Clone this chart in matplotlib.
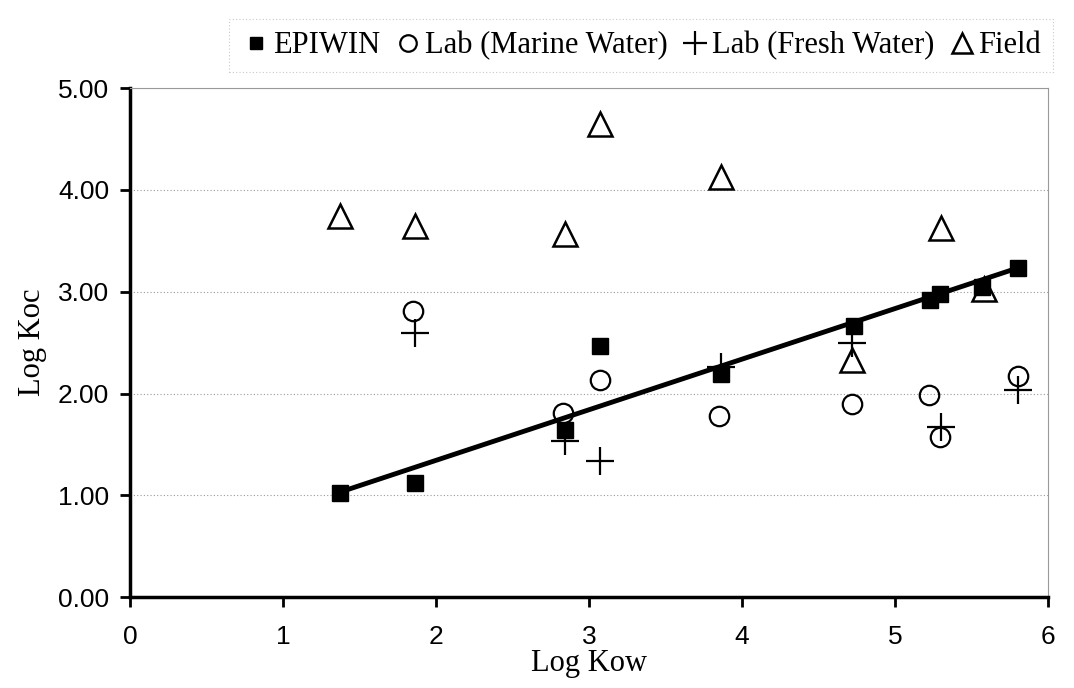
import matplotlib.pyplot as plt
import numpy as np

# values
epiwin_x = [1.37, 1.86, 2.84, 3.07, 3.86, 4.73, 5.23, 5.29, 5.57, 5.80]
epiwin_y = [1.02, 1.12, 1.64, 2.47, 2.19, 2.66, 2.92, 2.98, 3.05, 3.23]

marine_x = [1.85, 2.83, 3.07, 3.85, 4.72, 5.22, 5.29, 5.80]
marine_y = [2.81, 1.81, 2.13, 1.78, 1.90, 1.99, 1.57, 2.17]

fresh_x = [1.86, 2.84, 3.07, 3.86, 4.72, 5.30, 5.80]
fresh_y = [2.59, 1.53, 1.34, 2.26, 2.50, 1.67, 2.03]

field_x = [1.37, 1.86, 2.84, 3.07, 3.86, 4.72, 5.30, 5.58]
field_y = [3.74, 3.65, 3.57, 4.65, 4.13, 2.33, 3.63, 3.03]

# trend line of the EPIWIN estimates
trend_slope = 0.497
trend_icpt = 0.35

serif = 'Liberation Serif'
sans = 'Liberation Sans'

fig = plt.figure(figsize=(10.74, 6.88), dpi=100)
ax = fig.add_axes([0.121, 0.132, 0.855, 0.740])

tx = np.array([min(epiwin_x), max(epiwin_x)])
ax.plot(tx, trend_slope * tx + trend_icpt, color='black', lw=3.5, zorder=2)

ax.plot(epiwin_x, epiwin_y, 's', color='black', ms=11, label='EPIWIN', zorder=3)
ax.plot(marine_x, marine_y, 'o', mfc='none', mec='black', mew=1.6, ms=14,
        label='Lab (Marine Water)', zorder=3)
ax.plot(fresh_x, fresh_y, '+', color='black', mew=1.6, ms=20,
        label='Lab (Fresh Water)', zorder=3)
ax.plot(field_x, field_y, '^', mfc='none', mec='black', mew=1.8, ms=17,
        label='Field', zorder=3)

ax.set_xlim(0, 6)
ax.set_ylim(0, 5)
ax.set_xticks(range(0, 7))
ax.set_yticks(np.arange(0, 5.01, 1))
ax.set_yticklabels(['%.2f' % v for v in np.arange(0, 5.01, 1)])
for lbl in ax.get_xticklabels() + ax.get_yticklabels():
    lbl.set_fontfamily(sans)
    lbl.set_fontsize(19)

ax.tick_params(direction='out', length=7, width=2, color='black', pad=8)
ax.tick_params(axis='x', pad=13)
ax.grid(axis='y', color='#999999', lw=0.8, ls=(0, (1, 2)))
ax.set_axisbelow(True)

for s in ['left', 'bottom']:
    ax.spines[s].set_linewidth(2.5)
for s in ['top', 'right']:
    ax.spines[s].set_color('#999999')
    ax.spines[s].set_linewidth(0.8)
    ax.spines[s].set_linestyle((0, (1, 1)))

ax.set_xlabel('Log Kow', fontfamily=serif, fontsize=22, labelpad=0)
ax.set_ylabel('Log Koc', fontfamily=serif, fontsize=22, labelpad=8)

leg = fig.legend(loc='upper right', bbox_to_anchor=(0.995, 0.995), ncol=4,
                 prop={'family': serif, 'size': 22}, handletextpad=0.05,
                 columnspacing=0.4, handlelength=1.0, borderpad=0.4,
                 fancybox=False, markerscale=0.85)
leg.get_frame().set_edgecolor('#bbbbbb')
leg.get_frame().set_linestyle((0, (1, 2)))
leg.get_frame().set_linewidth(0.8)

fig.savefig('out.png', dpi=100)
